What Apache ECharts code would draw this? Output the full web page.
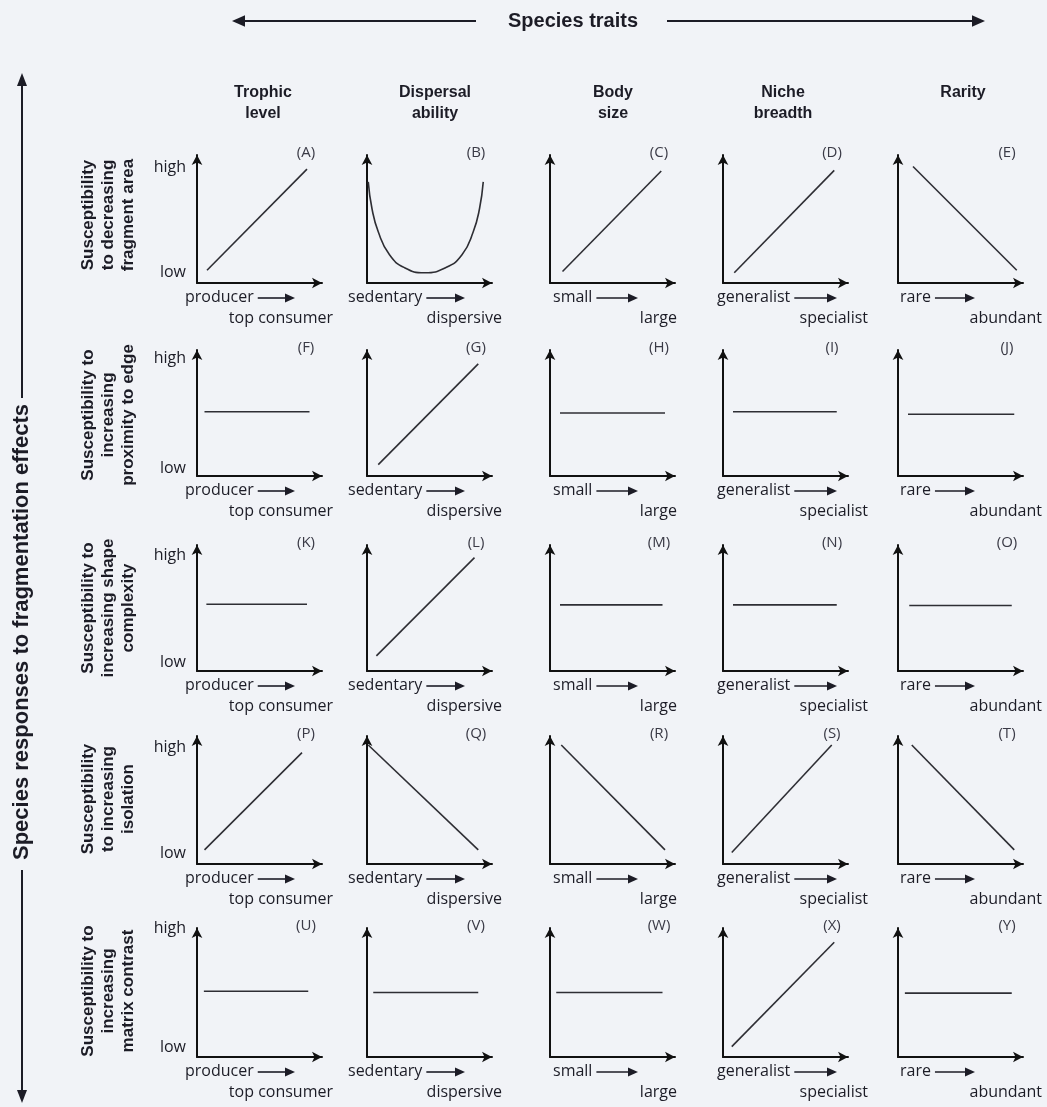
<!DOCTYPE html>
<html><head><meta charset="utf-8">
<script src="https://cdn.jsdelivr.net/npm/echarts@6/dist/echarts.min.js"></script>
<style>html,body{margin:0;padding:0;background:#f1f3f7}#c{width:1047px;height:1107px}</style>
</head><body><div id="c"></div>
<script>
// ---------- text content ----------
const mainTitle = 'Species traits';
const sideTitle = 'Species responses to fragmentation effects';
const traits = ['Trophic\nlevel', 'Dispersal\nability', 'Body\nsize', 'Niche\nbreadth', 'Rarity'];
const traitLow = ['producer', 'sedentary', 'small', 'generalist', 'rare'];
const traitHigh = ['top consumer', 'dispersive', 'large', 'specialist', 'abundant'];
const responses = [
  'Susceptibility\nto decreasing\nfragment area',
  'Susceptibility to\nincreasing\nproximity to edge',
  'Susceptibility to\nincreasing shape\ncomplexity',
  'Susceptibility\nto increasing\nisolation',
  'Susceptibility to\nincreasing\nmatrix contrast'
];
const yTickLabels = ['low', 'high'];
const panelLetters = ['A','B','C','D','E','F','G','H','I','J','K','L','M','N','O','P','Q','R','S','T','U','V','W','X','Y'];

// ---------- panel curves: [trait position 0..1, susceptibility 0..1] ----------
const A = [[0.08, 0.10], [0.88, 0.89]];
const B = [[0.01, 0.79], [0.04, 0.58], [0.09, 0.40], [0.18, 0.22], [0.30, 0.12], [0.46, 0.08], [0.63, 0.12], [0.76, 0.22], [0.85, 0.40], [0.90, 0.58], [0.93, 0.79]];
const C = [[0.10, 0.09], [0.89, 0.875]];
const D = [[0.09, 0.08], [0.89, 0.88]];
const E = [[0.12, 0.91], [0.95, 0.10]];
const F = [[0.06, 0.51], [0.90, 0.51]];
const G = [[0.09, 0.09], [0.89, 0.89]];
const H = [[0.08, 0.50], [0.92, 0.50]];
const I = [[0.08, 0.51], [0.91, 0.51]];
const J = [[0.08, 0.49], [0.93, 0.49]];
const K = [[0.075, 0.53], [0.88, 0.53]];
const L = [[0.075, 0.12], [0.86, 0.90]];
const M = [[0.08, 0.525], [0.90, 0.525]];
const N = [[0.08, 0.525], [0.91, 0.525]];
const O = [[0.09, 0.52], [0.91, 0.52]];
const P = [[0.06, 0.11], [0.84, 0.87]];
const Q = [[0.01, 0.93], [0.89, 0.11]];
const R = [[0.09, 0.93], [0.92, 0.11]];
const S = [[0.07, 0.09], [0.87, 0.93]];
const T = [[0.11, 0.93], [0.93, 0.11]];
const U = [[0.055, 0.51], [0.89, 0.51]];
const V = [[0.05, 0.50], [0.89, 0.50]];
const W = [[0.05, 0.50], [0.90, 0.50]];
const X = [[0.07, 0.08], [0.89, 0.89]];
const Y = [[0.055, 0.495], [0.91, 0.495]];
const curves = [A, B, C, D, E, F, G, H, I, J, K, L, M, N, O, P, Q, R, S, T, U, V, W, X, Y];

// ---------- layout ----------
const colLeft = [197, 367, 550, 723, 898];
const rowTop = [152, 347, 542, 733, 925];
const rowBottom = [283, 476, 671, 864, 1057];
const axisLen = 129;
const lowLabelLeft = [185, 348, 553, 717, 900];
const lowArrowEnd = [295, 465, 638, 837, 975];
const highLabelRight = [333, 502, 677, 868, 1042];
const headerX = [263, 435, 613, 783, 963];
const rowHighY = [167, 358, 555, 747, 928];
const rowLowY = [272, 468, 662, 853, 1047];
const rowLabelY = [215, 415, 608, 799, 991];

const INK = '#1c1c26';
const BODY_FONT = '"Open Sans", "Liberation Sans", sans-serif';
const BOLD_FONT = '"Liberation Sans", Arial, sans-serif';

const mctx = document.createElement('canvas').getContext('2d');
function textW(t, font) { mctx.font = font; return mctx.measureText(t).width; }

const grids = [], xAxes = [], yAxes = [], series = [], graphics = [];
const axisLineStyle = { show: true, onZero: false, lineStyle: { color: '#111', width: 2 }, symbol: ['none', 'arrow'], symbolSize: [8, 10] };

function arrowH(x1, x2, y, w, head, color) {
  graphics.push({ type: 'line', shape: { x1: x1, y1: y, x2: x2 - head * 0.8, y2: y }, style: { stroke: color, lineWidth: w } });
  graphics.push({ type: 'polygon', shape: { points: [[x2, y], [x2 - head, y - head * 0.45], [x2 - head, y + head * 0.45]] }, style: { fill: color } });
}
function arrowHLeft(x1, x2, y, w, head, color) { // head at x1
  graphics.push({ type: 'line', shape: { x1: x1 + head * 0.8, y1: y, x2: x2, y2: y }, style: { stroke: color, lineWidth: w } });
  graphics.push({ type: 'polygon', shape: { points: [[x1, y], [x1 + head, y - head * 0.45], [x1 + head, y + head * 0.45]] }, style: { fill: color } });
}

for (let r = 0; r < 5; r++) {
  for (let c = 0; c < 5; c++) {
    const i = r * 5 + c;
    const top = rowTop[r] + 3;
    grids.push({ left: colLeft[c], top: top, width: axisLen - 4, height: rowBottom[r] - top });
    xAxes.push({ type: 'value', gridIndex: i, min: 0, max: 1, axisLine: axisLineStyle, axisTick: { show: false }, axisLabel: { show: false }, splitLine: { show: false } });
    yAxes.push({ type: 'value', gridIndex: i, min: 0, max: 1, axisLine: axisLineStyle, axisTick: { show: false }, axisLabel: { show: false }, splitLine: { show: false } });
    series.push({ type: 'line', xAxisIndex: i, yAxisIndex: i, data: curves[i], smooth: curves[i].length > 2 ? 0.5 : false, showSymbol: false, lineStyle: { color: '#2e2e34', width: 1.6 }, silent: true });
    // panel letter
    graphics.push({ type: 'text', x: colLeft[c] + 109, y: rowTop[r] + 1, style: { text: '(' + panelLetters[i] + ')', font: '15px ' + BODY_FONT, fill: '#3a3a46', align: 'center', verticalAlign: 'middle' } });
    // x labels
    const lowFont = '16px ' + BODY_FONT;
    const ly = rowBottom[r] + 14;
    graphics.push({ type: 'text', x: lowLabelLeft[c], y: ly, style: { text: traitLow[c], font: lowFont, fill: INK, align: 'left', verticalAlign: 'middle' } });
    const aStart = lowLabelLeft[c] + textW(traitLow[c], lowFont) + 4;
    arrowH(aStart, lowArrowEnd[c], ly + 1, 1.6, 10, INK);
    graphics.push({ type: 'text', x: highLabelRight[c], y: rowBottom[r] + 35, style: { text: traitHigh[c], font: lowFont, fill: INK, align: 'right', verticalAlign: 'middle' } });
  }
  // high / low
  graphics.push({ type: 'text', x: 186, y: rowHighY[r], style: { text: yTickLabels[1], font: '16px ' + BODY_FONT, fill: INK, align: 'right', verticalAlign: 'middle' } });
  graphics.push({ type: 'text', x: 186, y: rowLowY[r], style: { text: yTickLabels[0], font: '16px ' + BODY_FONT, fill: INK, align: 'right', verticalAlign: 'middle' } });
  // row label
  graphics.push({ type: 'text', x: 108, y: rowLabelY[r], rotation: Math.PI / 2, style: { text: responses[r], font: 'bold 17px ' + BOLD_FONT, lineHeight: 20, fill: INK, align: 'center', verticalAlign: 'middle' } });
}

// column headers
for (let c = 0; c < 5; c++) {
  graphics.push({ type: 'text', x: headerX[c], y: 82, style: { text: traits[c], font: 'bold 16px ' + BOLD_FONT, lineHeight: 21, fill: INK, align: 'center', verticalAlign: 'top' } });
}
// top title + arrows
graphics.push({ type: 'text', x: 573, y: 21, style: { text: mainTitle, font: 'bold 20px ' + BOLD_FONT, fill: INK, align: 'center', verticalAlign: 'middle' } });
arrowHLeft(232, 476, 21, 2, 13, INK);
arrowH(667, 985, 21, 2, 13, INK);
// side title + vertical arrows
graphics.push({ type: 'text', x: 22, y: 632, rotation: Math.PI / 2, style: { text: sideTitle, font: 'bold 22px ' + BOLD_FONT, fill: INK, align: 'center', verticalAlign: 'middle' } });
graphics.push({ type: 'line', shape: { x1: 22, y1: 84, x2: 22, y2: 398 }, style: { stroke: INK, lineWidth: 2 } });
graphics.push({ type: 'polygon', shape: { points: [[22, 73], [17, 86], [27, 86]] }, style: { fill: INK } });
graphics.push({ type: 'line', shape: { x1: 22, y1: 870, x2: 22, y2: 1092 }, style: { stroke: INK, lineWidth: 2 } });
graphics.push({ type: 'polygon', shape: { points: [[22, 1103], [17, 1090], [27, 1090]] }, style: { fill: INK } });

const chart = echarts.init(document.getElementById('c'), null, { renderer: 'canvas' });
chart.setOption({
  backgroundColor: '#f1f3f7',
  animation: false,
  grid: grids, xAxis: xAxes, yAxis: yAxes, series: series,
  graphic: { elements: graphics }
});
</script></body></html>
